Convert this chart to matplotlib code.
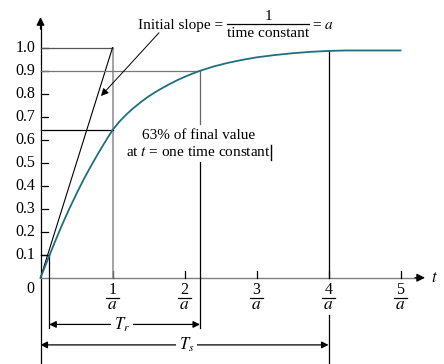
import matplotlib
matplotlib.use("Agg")
import matplotlib.pyplot as plt

plt.rcParams['font.family'] = ['Liberation Serif', 'DejaVu Serif']
plt.rcParams['mathtext.fontset'] = 'stix'

# step response (t in units of 1/a, value)
t_vals = [0.0, 0.1, 0.2, 0.3, 0.4, 0.5, 0.6, 0.7, 0.8, 0.9, 1.0, 1.1, 1.2, 1.3,
          1.4, 1.5, 1.6, 1.7, 1.8, 1.9, 2.0, 2.1, 2.2, 2.4, 2.6, 2.8, 3.0, 3.25,
          3.5, 3.75, 4.0, 4.25, 4.5, 4.75, 5.0]
c_vals = [0.0, 0.078, 0.156, 0.230, 0.300, 0.365, 0.428, 0.485, 0.540, 0.592,
          0.642, 0.680, 0.712, 0.740, 0.765, 0.788, 0.808, 0.826, 0.843, 0.859,
          0.873, 0.886, 0.898, 0.918, 0.934, 0.947, 0.958, 0.968, 0.976, 0.982,
          0.986, 0.988, 0.988, 0.988, 0.988]

y_ticks = [0.1, 0.2, 0.3, 0.4, 0.5, 0.6, 0.7, 0.8, 0.9, 1.0]
y_ticklabels = ['0.1', '0.2', '0.3', '0.4', '0.5', '0.6', '0.7', '0.8', '0.9', '1.0']
x_ticks = [1, 2, 3, 4, 5]
x_numerators = ['1', '2', '3', '4', '5']
x_denominator = r'$a$'

t_rise_start = 0.122
t_ninety = 2.215
t_settle = 4.0
c_one_tau = 0.642

teal = '#1f6f7f'
fs_tick = 11.5
fs = 11

fig = plt.figure(figsize=(4.44, 3.64), dpi=100)
ax = fig.add_axes([0, 0, 1, 1])
ax.set_xlim(-0.5625, 5.604)
ax.set_ylim(-0.375, 1.2074)
ax.axis('off')

# y axis with arrow
ax.plot([0, 0], [-0.375, 1.10], color='black', lw=0.9)
ax.annotate('', xy=(0, 1.133), xytext=(0, 1.08),
            arrowprops=dict(arrowstyle='-|>', color='black', lw=0.9,
                            mutation_scale=12, shrinkA=0, shrinkB=0))
# x axis with arrow
ax.plot([0, 5.25], [0, 0], color='#808080', lw=1.0)
ax.annotate('', xy=(5.34, 0), xytext=(5.2, 0),
            arrowprops=dict(arrowstyle='-|>', color='black', lw=0.9,
                            mutation_scale=12, shrinkA=0, shrinkB=0))
ax.text(5.43, 0.0, r'$t$', fontsize=fs + 1, ha='left', va='center')

# ticks
for v, lab in zip(y_ticks, y_ticklabels):
    ax.plot([0, 0.107], [v, v], color='black', lw=0.9)
    ax.text(-0.07, v, lab, fontsize=fs_tick, ha='right', va='center')
ax.text(-0.14, -0.05, '0', fontsize=fs_tick, ha='center', va='center')
for x, num in zip(x_ticks, x_numerators):
    ax.plot([x, x], [0, 0.03], color='black', lw=0.9)
    ax.text(x, -0.055, num, fontsize=fs_tick, ha='center', va='center')
    ax.plot([x - 0.088, x + 0.088], [-0.087, -0.087], color='black', lw=0.9)
    ax.text(x, -0.118, x_denominator, fontsize=fs_tick + 1, ha='center', va='center')

# guide lines
ax.plot([0, 1], [1.0, 1.0], color='#555555', lw=0.9)
ax.plot([1, 1], [0, 1.0], color='#8a8a8a', lw=1.1)
ax.plot([0, 1], [0, 1.0], color='black', lw=0.8)   # initial slope tangent
ax.plot([0, 1], [c_one_tau, c_one_tau], color='black', lw=0.9)
ax.plot([0, t_ninety], [0.9, 0.9], color='#777777', lw=0.9)
ax.plot([t_ninety, t_ninety], [0.9, 0.668], color='#666666', lw=0.9)
ax.plot([t_ninety, t_ninety], [0.503, -0.217], color='black', lw=0.9)
ax.plot([t_settle, t_settle], [0.987, 0], color='black', lw=0.9)
ax.plot([t_settle, t_settle], [-0.163, -0.375], color='black', lw=0.9)
ax.plot([0, t_rise_start], [0.1, 0.1], color='black', lw=0.9)
ax.plot([t_rise_start, t_rise_start], [0.1, -0.217], color='black', lw=0.9)

# response curve
ax.plot(t_vals, c_vals, color=teal, lw=1.3)

# "Initial slope = 1 / time constant = a"
ax.text(1.358, 1.080, 'Initial slope =', fontsize=fs, ha='left', va='baseline')
ax.text(3.16, 1.120, '1', fontsize=fs, ha='center', va='baseline')
ax.plot([2.59, 3.729], [1.102, 1.102], color='black', lw=0.9)
ax.text(3.16, 1.045, 'time constant', fontsize=fs, ha='center', va='baseline')
ax.text(3.767, 1.080, r'= $a$', fontsize=fs, ha='left', va='baseline')
ax.annotate('', xy=(0.84, 0.79), xytext=(1.646, 1.065),
            arrowprops=dict(arrowstyle='-|>', color='black', lw=0.7,
                            mutation_scale=11, shrinkA=0, shrinkB=0))

ax.text(2.2, 0.601, '63% of final value', fontsize=fs, ha='center', va='baseline')
ax.text(2.2, 0.530, r'at $t$ = one time constant', fontsize=fs, ha='center', va='baseline')
ax.plot([3.2, 3.2], [0.577, 0.512], color='black', lw=1.0)

# T_r and T_s dimension arrows
yr = -0.203
ax.annotate('', xy=(t_rise_start, yr), xytext=(t_ninety, yr),
            arrowprops=dict(arrowstyle='<|-|>', color='black', lw=0.9,
                            mutation_scale=10, shrinkA=0, shrinkB=0))
ax.text(1.13, yr, r'$T_r$', fontsize=fs + 1, ha='center', va='center',
        bbox=dict(facecolor='white', edgecolor='none', pad=2))
ys = -0.292
ax.annotate('', xy=(0, ys), xytext=(t_settle, ys),
            arrowprops=dict(arrowstyle='<|-|>', color='black', lw=0.9,
                            mutation_scale=10, shrinkA=0, shrinkB=0))
ax.text(2.03, ys, r'$T_s$', fontsize=fs + 1, ha='center', va='center',
        bbox=dict(facecolor='white', edgecolor='none', pad=2))

fig.savefig('out.png', dpi=100)
